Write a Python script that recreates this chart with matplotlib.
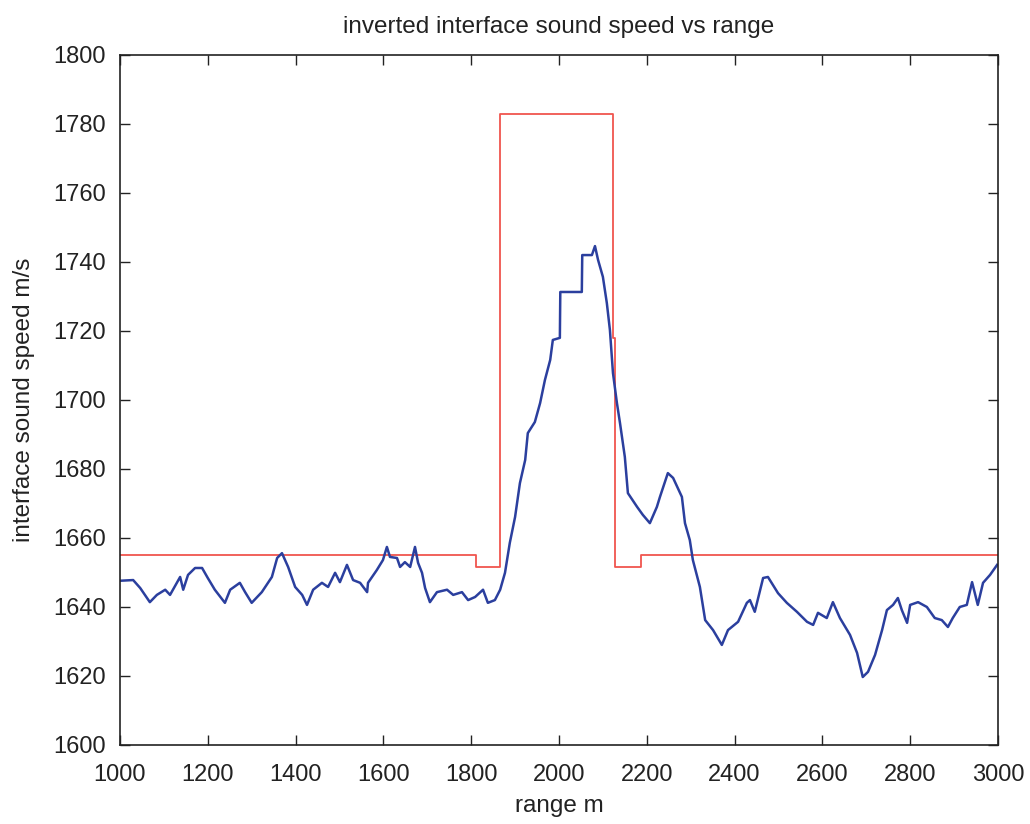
import matplotlib
matplotlib.use('Agg')
import matplotlib.pyplot as plt
import numpy as np

# true (red) step profile: edges and levels
true_edges = [1000, 1810, 1865, 2123, 2128, 2187, 3000]
true_levels = [1655, 1651.5, 1783, 1718, 1651.5, 1655]

# inverted (blue) profile
inv_range = [1000, 1030, 1046, 1068, 1084, 1103, 1114, 1137, 1144, 1155, 1171, 1187,
             1200, 1216, 1239, 1251, 1273, 1285, 1300, 1323, 1346, 1358, 1369, 1383,
             1399, 1415, 1426, 1440, 1460, 1474, 1490, 1501, 1517, 1531, 1547, 1563,
             1565, 1585, 1599, 1608, 1615, 1631, 1638, 1649, 1661, 1672, 1679, 1688,
             1695, 1706, 1722, 1745, 1759, 1779, 1793, 1809, 1827, 1838, 1854, 1866,
             1877, 1888, 1900, 1911, 1923, 1929, 1945, 1957, 1968, 1980, 1986, 2002,
             2003, 2007, 2052, 2053, 2075, 2082, 2089, 2100, 2109, 2116, 2123, 2132,
             2139, 2150, 2157, 2178, 2191, 2207, 2223, 2230, 2248, 2260, 2280, 2287,
             2298, 2305, 2321, 2333, 2351, 2371, 2385, 2408, 2428, 2435, 2446, 2465,
             2476, 2499, 2519, 2542, 2565, 2579, 2590, 2610, 2624, 2640, 2663, 2679,
             2692, 2704, 2720, 2736, 2747, 2761, 2772, 2781, 2793, 2800, 2818, 2838,
             2856, 2872, 2886, 2897, 2913, 2929, 2941, 2954, 2966, 2982, 2998]
inv_speed = [1647.6, 1647.8, 1645.5, 1641.4, 1643.5, 1645.0, 1643.5, 1648.7, 1645.0, 1649.3, 1651.3, 1651.3,
             1648.4, 1645.0, 1641.2, 1645.0, 1647.0, 1644.3, 1641.2, 1644.3, 1648.7, 1654.2, 1655.6, 1651.6,
             1645.8, 1643.5, 1640.6, 1645.0, 1647.0, 1645.8, 1649.9, 1647.2, 1652.2, 1647.8, 1647.0, 1644.3,
             1647.0, 1650.7, 1653.6, 1657.4, 1654.5, 1654.2, 1651.6, 1653.0, 1651.6, 1657.4, 1652.8, 1649.9,
             1645.5, 1641.4, 1644.3, 1645.0, 1643.5, 1644.3, 1642.0, 1642.9, 1645.0, 1641.2, 1642.0, 1645.0,
             1649.9, 1658.6, 1666.1, 1675.9, 1682.6, 1690.4, 1693.6, 1699.1, 1705.8, 1711.6, 1717.4, 1718.0,
             1731.3, 1731.3, 1731.3, 1742.0, 1742.0, 1744.6, 1740.6, 1735.7, 1728.1, 1720.3, 1707.8, 1699.1,
             1693.3, 1683.5, 1673.0, 1669.0, 1666.7, 1664.3, 1669.0, 1671.9, 1678.8, 1677.4, 1671.9, 1664.3,
             1659.4, 1653.6, 1645.8, 1636.2, 1633.3, 1629.0, 1633.3, 1635.7, 1641.2, 1642.0, 1638.6, 1648.4,
             1648.7, 1644.0, 1641.2, 1638.6, 1635.7, 1634.8, 1638.3, 1636.8, 1641.4, 1636.8, 1631.9, 1626.7,
             1619.7, 1621.2, 1626.1, 1633.3, 1639.1, 1640.6, 1642.6, 1639.1, 1635.4, 1640.6, 1641.4, 1640.0,
             1636.8, 1636.2, 1634.2, 1636.8, 1640.0, 1640.6, 1647.2, 1640.6, 1647.0, 1649.3, 1652.2]

plt.rcParams['font.family'] = ['Liberation Sans', 'DejaVu Sans']

fig = plt.figure(figsize=(10.3, 8.24), dpi=100)
ax = fig.add_axes([0.1165, 0.0959, 0.8524, 0.8374])

ax.step(true_edges, true_levels + [true_levels[-1]], where='post', color='#f0554e', lw=1.3)
ax.plot(inv_range, inv_speed, color='#2b3f9e', lw=1.8)

ax.set_xlim(1000, 3000)
ax.set_ylim(1600, 1800)
ax.set_xticks(np.arange(1000, 3001, 200))
ax.set_yticks(np.arange(1600, 1801, 20))
ax.tick_params(direction='in', length=7, width=1, top=True, right=True, labelsize=17, colors='#222222')
ax.tick_params(axis='x', pad=14)
ax.tick_params(axis='y', pad=10)
for s in ax.spines.values():
    s.set_linewidth(1.2)
    s.set_color('#222222')

ax.set_title('inverted interface sound speed vs range', fontsize=17.5, pad=16, color='#222222')
ax.set_xlabel('range m', fontsize=17.5, color='#222222')
ax.set_ylabel('interface sound speed m/s', fontsize=17.5, color='#222222')
ax.xaxis.set_label_coords(0.5, -0.073)
ax.yaxis.set_label_coords(-0.097, 0.5)

fig.savefig('out.png', dpi=100)
